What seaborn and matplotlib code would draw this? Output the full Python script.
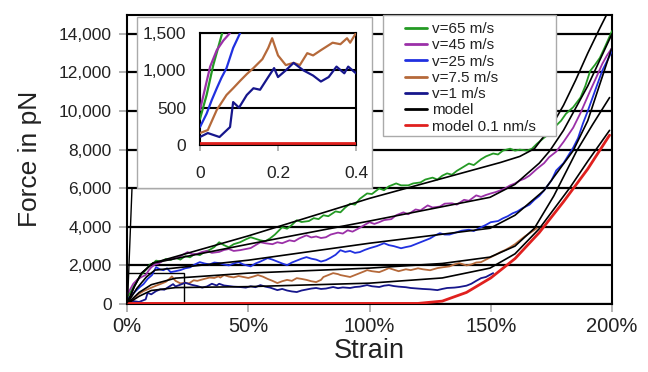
import numpy as np
import pandas as pd
import matplotlib
matplotlib.use("Agg")
import matplotlib.pyplot as plt
import seaborn as sns
from matplotlib.patches import Rectangle
from matplotlib.lines import Line2D
from matplotlib.ticker import FuncFormatter, FixedLocator

# ---- measured force-strain curves (strain as fraction, force in pN) ----
strain_v65 = [0, 0.017, 0.034, 0.057, 0.08, 0.095, 0.107, 0.12, 0.14, 0.16, 0.18, 0.20, 0.22, 0.24,
              0.26, 0.28, 0.30, 0.32, 0.34, 0.36, 0.38, 0.40, 0.42, 0.44, 0.466, 0.49, 0.51, 0.53,
              0.55, 0.57, 0.59, 0.61, 0.64, 0.66, 0.68, 0.70, 0.72, 0.75, 0.77, 0.79, 0.81, 0.83,
              0.86, 0.88, 0.90, 0.92, 0.94, 0.96, 0.99, 1.01, 1.04, 1.06, 1.08, 1.11, 1.13, 1.16,
              1.18, 1.21, 1.23, 1.26, 1.28, 1.30, 1.32, 1.34, 1.36, 1.38, 1.41, 1.43, 1.46, 1.48,
              1.51, 1.53, 1.55, 1.58, 1.60, 1.62, 1.65, 1.67, 1.69, 1.72, 1.74, 1.77, 1.79, 1.81,
              1.84, 1.87, 1.89, 1.91, 1.93, 1.95, 1.97, 2.0]
force_v65 = [350, 670, 1070, 1500, 1800, 2050, 2100, 2250, 2200, 2330, 2280, 2400, 2300, 2480,
             2420, 2600, 2530, 2700, 2800, 2950, 3200, 3050, 2940, 3100, 3200, 3350, 3460, 3380,
             3300, 3250, 3400, 3600, 3980, 3900, 4100, 4340, 4250, 4300, 4450, 4400, 4600, 4550,
             4800, 4750, 5000, 5200, 5150, 5450, 5730, 5700, 5990, 5900, 6100, 6250, 6150, 6150,
             6250, 6300, 6450, 6550, 6450, 6650, 6770, 6700, 6900, 7050, 7280, 7200, 7500, 7650,
             7800, 7750, 7950, 8050, 7950, 8000, 7950, 8050, 8300, 8620, 8800, 9250, 9500, 9860,
             10200, 10700, 11300, 12080, 12400, 12760, 13300, 14150]

strain_v45 = [0, 0.026, 0.043, 0.06, 0.077, 0.09, 0.10, 0.115, 0.13, 0.15, 0.17, 0.19, 0.21, 0.23,
              0.25, 0.27, 0.29, 0.31, 0.33, 0.35, 0.38, 0.40, 0.42, 0.44, 0.466, 0.49, 0.51, 0.53,
              0.55, 0.57, 0.60, 0.62, 0.64, 0.67, 0.69, 0.71, 0.74, 0.76, 0.78, 0.80, 0.82, 0.84,
              0.87, 0.89, 0.91, 0.93, 0.96, 0.98, 1.0, 1.02, 1.04, 1.06, 1.09, 1.11, 1.14, 1.16,
              1.19, 1.21, 1.24, 1.26, 1.29, 1.31, 1.34, 1.36, 1.39, 1.41, 1.44, 1.46, 1.48, 1.50,
              1.52, 1.54, 1.56, 1.58, 1.60, 1.62, 1.64, 1.66, 1.69, 1.72, 1.74, 1.77, 1.80, 1.84,
              1.87, 1.91, 1.93, 1.96, 1.98, 2.0]
force_v45 = [470, 1050, 1270, 1400, 1500, 1750, 1900, 2050, 2100, 2250, 2300, 2350, 2400, 2550,
             2690, 2580, 2600, 2700, 2750, 2650, 2700, 2800, 2850, 2750, 2790, 2850, 2900, 3050,
             3200, 3150, 3100, 3200, 3150, 3300, 3250, 3400, 3560, 3450, 3500, 3420, 3460, 3600,
             3700, 3650, 3820, 3750, 3950, 4100, 4240, 4150, 4240, 4350, 4400, 4600, 4750, 4650,
             4900, 4850, 5110, 5000, 5050, 5200, 5220, 5150, 5400, 5350, 5630, 5550, 5650, 5730,
             5800, 5890, 6000, 6150, 6250, 6400, 6500, 6660, 7000, 7300, 7600, 7900, 8400, 9140,
             9900, 11050, 11600, 12450, 12900, 13270]

strain_v25 = [0, 0.017, 0.03, 0.043, 0.055, 0.068, 0.085, 0.103, 0.12, 0.135, 0.15, 0.165, 0.18,
              0.20, 0.22, 0.24, 0.26, 0.28, 0.30, 0.32, 0.34, 0.36, 0.38, 0.40, 0.42, 0.44, 0.46,
              0.48, 0.51, 0.53, 0.55, 0.58, 0.60, 0.62, 0.64, 0.66, 0.68, 0.70, 0.72, 0.74, 0.76,
              0.78, 0.80, 0.82, 0.84, 0.86, 0.88, 0.90, 0.92, 0.94, 0.96, 0.98, 1.0, 1.03, 1.06,
              1.08, 1.10, 1.13, 1.15, 1.17, 1.20, 1.22, 1.25, 1.27, 1.29, 1.31, 1.33, 1.36, 1.38,
              1.41, 1.43, 1.46, 1.48, 1.50, 1.53, 1.55, 1.57, 1.59, 1.61, 1.63, 1.66, 1.68, 1.70,
              1.72, 1.75, 1.77, 1.80, 1.82, 1.84, 1.86, 1.88, 1.90, 1.92, 1.94, 1.96, 1.98, 2.0]
force_v25 = [240, 420, 600, 760, 900, 1030, 1300, 1500, 1910, 1800, 1750, 1850, 1650,
             1700, 1756, 1850, 1900, 2050, 2170, 2100, 2050, 2150, 2120, 2050, 2000, 2100, 2170,
             2050, 1950, 2100, 2200, 2380, 2300, 2200, 2100, 2010, 2150, 2250, 2350, 2430, 2350,
             2300, 2200, 2270, 2400, 2550, 2790, 2700, 2750, 2650, 2690, 2800, 2890, 3000, 3150,
             3050, 3000, 2890, 2950, 3000, 3150, 3250, 3400, 3550, 3670, 3600, 3600, 3720, 3800,
             3850, 3780, 3980, 4100, 4240, 4300, 4440, 4550, 4700, 4800, 4960, 5150, 5400, 5600,
             5890, 6400, 6920, 7300, 7700, 8100, 8600, 9350, 10000, 10700, 11400, 12100, 12600, 13120]

strain_v7 = [0, 0.02, 0.043, 0.068, 0.085, 0.103, 0.12, 0.137, 0.16, 0.175, 0.185, 0.20, 0.22,
             0.24, 0.256, 0.275, 0.29, 0.31, 0.325, 0.34, 0.36, 0.377, 0.385, 0.40, 0.42, 0.44,
             0.46, 0.48, 0.50, 0.52, 0.54, 0.56, 0.58, 0.60, 0.62, 0.64, 0.66, 0.68, 0.70, 0.72,
             0.74, 0.76, 0.78, 0.80, 0.81, 0.83, 0.85, 0.87, 0.88, 0.90, 0.92, 0.94, 0.96, 0.98,
             0.99, 1.01, 1.04, 1.06, 1.08, 1.10, 1.12, 1.15, 1.17, 1.20, 1.22, 1.25, 1.28, 1.30,
             1.33, 1.35, 1.37, 1.40, 1.42, 1.44, 1.46, 1.48, 1.50, 1.52, 1.54, 1.56, 1.58, 1.60,
             1.62, 1.64, 1.66, 1.69]
force_v7 = [160, 200, 470, 670, 760, 860, 950, 1030, 1150, 1300, 1430, 1200, 1070,
            1100, 1070, 1230, 1200, 1270, 1320, 1370, 1350, 1430, 1370, 1500, 1420, 1380,
            1450, 1400, 1350, 1420, 1500, 1420, 1300, 1200, 1085, 1180, 1250, 1200, 1340, 1300,
            1250, 1180, 1136, 1250, 1400, 1500, 1600, 1550, 1500, 1450, 1400, 1500, 1600, 1700,
            1756, 1700, 1650, 1750, 1860, 1780, 1700, 1800, 1756, 1850, 1800, 1750, 1860, 1900,
            1950, 2050, 2120, 2000, 2050, 2150, 2170, 2300, 2430, 2550, 2690, 2800, 2940, 3100,
            3300, 3500, 3670, 3925]

strain_v1 = [0, 0.02, 0.05, 0.077, 0.085, 0.10, 0.12, 0.137, 0.154, 0.17, 0.19, 0.20, 0.22, 0.24,
             0.265, 0.29, 0.31, 0.33, 0.35, 0.37, 0.38, 0.40, 0.42, 0.44, 0.466, 0.49, 0.51, 0.53,
             0.55, 0.57, 0.59, 0.62, 0.64, 0.66, 0.68, 0.70, 0.72, 0.74, 0.76, 0.78, 0.80, 0.82,
             0.85, 0.87, 0.89, 0.92, 0.94, 0.96, 0.99, 1.01, 1.04, 1.06, 1.08, 1.10, 1.12, 1.15,
             1.17, 1.20, 1.22, 1.25, 1.28, 1.30, 1.32, 1.35, 1.37, 1.40, 1.42, 1.44, 1.46, 1.48,
             1.51]
force_v1 = [107, 160, 107, 240, 575, 500, 670, 760, 740, 870, 1030, 910, 1000, 1100,
            1000, 930, 850, 910, 1050, 960, 1050, 960, 930, 900, 880, 850, 920, 870,
            980, 900, 850, 720, 780, 700, 650, 620, 700, 750, 800, 830, 780, 800,
            880, 820, 860, 830, 880, 900, 980, 920, 880, 950, 980, 930, 900, 870,
            830, 800, 780, 760, 720, 780, 830, 850, 880, 950, 1050, 1200, 1340, 1400,
            1600]

# ---- model curves ----
model_strain_65 = [0, 0.03, 0.06, 0.107, 0.5, 1.0, 1.54, 1.62, 1.68, 1.75, 1.80, 1.85, 1.90, 1.95, 1.99]
model_force_65 = [0, 900, 1600, 2120, 3530, 5475, 7335, 7650, 8050, 9200, 10300, 11600, 13000, 14300, 15300]
model_strain_45 = [0, 0.03, 0.06, 0.107, 0.5, 1.0, 1.497, 1.60, 1.70, 1.744, 1.80, 1.90, 2.0]
model_force_45 = [0, 900, 1600, 2120, 3100, 4300, 5530, 6200, 7300, 7950, 9000, 11300, 14000]
model_strain_25 = [0, 0.04, 0.08, 0.115, 0.5, 1.0, 1.497, 1.60, 1.72, 1.84, 1.90, 2.0]
model_force_25 = [0, 800, 1400, 1756, 2270, 3150, 3925, 4600, 5890, 7950, 9500, 13300]
model_strain_7 = [0, 0.05, 0.10, 0.20, 0.5, 1.0, 1.30, 1.497, 1.60, 1.68, 1.76, 1.855, 1.92, 1.99]
model_force_7 = [0, 600, 1000, 1340, 1600, 1860, 2100, 2430, 3000, 3925, 5600, 7950, 9300, 10700]
model_strain_1 = [0, 0.05, 0.10, 0.20, 0.5, 1.0, 1.30, 1.497, 1.60, 1.70, 1.827, 1.90, 1.99]
model_force_1 = [0, 400, 700, 850, 900, 1080, 1350, 1860, 2600, 3900, 6040, 7400, 9000]
model_strain_slow = [0, 1.2, 1.3, 1.4, 1.5, 1.6, 1.7, 1.8, 1.9, 1.99]
model_force_slow = [30, 30, 150, 600, 1350, 2350, 3700, 5300, 7000, 8750]

series_labels = ["v=65 m/s", "v=45 m/s", "v=25 m/s", "v=7.5 m/s", "v=1 m/s"]
series_colors = ["#249a24", "#9b30a8", "#2030e0", "#b5693a", "#16168c"]
model_label = "model"
slow_label = "model 0.1 nm/s"
slow_color = "#e0201e"

y_ticks = [0, 2000, 4000, 6000, 8000, 10000, 12000, 14000]
x_ticks = [0, 0.5, 1.0, 1.5, 2.0]
inset_x_ticks = [0, 0.2, 0.4]
inset_y_ticks = [0, 500, 1000, 1500]

data = [(strain_v65, force_v65), (strain_v45, force_v45), (strain_v25, force_v25),
        (strain_v7, force_v7), (strain_v1, force_v1)]
models = [(model_strain_65, model_force_65), (model_strain_45, model_force_45),
          (model_strain_25, model_force_25), (model_strain_7, model_force_7),
          (model_strain_1, model_force_1)]

sns.set_theme(style="white")
plt.rcParams["font.family"] = ["Liberation Sans", "DejaVu Sans"]
TEXT = "#222222"

W, H = 648, 372
fig = plt.figure(figsize=(W / 100, H / 100), dpi=100)
ax = fig.add_axes([127 / W, 1 - 304 / H, 485 / W, 289.4 / H])


def draw_curves(a, with_models=True, lw_data=1.3):
    for (s, f), lab, col in zip(data, series_labels, series_colors):
        sns.lineplot(x=s, y=f, ax=a, color=col, lw=lw_data, sort=False, estimator=None,
                     legend=False, zorder=3)
    if with_models:
        for s, f in models:
            sns.lineplot(x=s, y=f, ax=a, color="black", lw=1.2, sort=False, estimator=None,
                         legend=False, zorder=4)
    sns.lineplot(x=model_strain_slow, y=model_force_slow, ax=a, color=slow_color, lw=2.0,
                 sort=False, estimator=None, legend=False, zorder=5)


draw_curves(ax)
ax.set_xlim(0, 2.0)
ax.set_ylim(0, 15000)
ax.xaxis.set_major_locator(FixedLocator(x_ticks))
ax.yaxis.set_major_locator(FixedLocator(y_ticks))
ax.xaxis.set_major_formatter(FuncFormatter(lambda v, p: f"{v * 100:.0f}%"))
ax.yaxis.set_major_formatter(FuncFormatter(lambda v, p: f"{v:,.0f}"))
ax.yaxis.grid(True, color="black", lw=1.6, zorder=1)
ax.xaxis.grid(False)
ax.set_axisbelow(True)
for sp in ax.spines.values():
    sp.set_color("black")
    sp.set_linewidth(1.5)
ax.tick_params(axis="x", labelsize=14.5, length=6, color="#aaaaaa", direction="out", bottom=True, pad=3)
ax.tick_params(axis="y", labelsize=12.5, length=6, color="#aaaaaa", direction="out", left=True, pad=5)
for t in ax.get_xticklabels() + ax.get_yticklabels():
    t.set_color(TEXT)
ax.set_xlabel("Strain", fontsize=19.5, color=TEXT, labelpad=2)
ax.set_ylabel("Force in pN", fontsize=19, color=TEXT, labelpad=12)

# zoomed region marker and connector
ax.add_patch(Rectangle((0, 0), 0.235, 1600, fill=False, ec="black", lw=1.0, zorder=2))
fig.add_artist(Line2D([132 / W, 127.5 / W], [1 - 188 / H, 1 - 303 / H], color="black", lw=1.0, zorder=1.5))

# legend with a hand-placed frame
frame_x0 = (383 - 127) / 485
frame_x1 = (556 - 127) / 485
frame_y0 = (304 - 136) / 289.4
ax.add_patch(Rectangle((frame_x0, frame_y0), frame_x1 - frame_x0, 1 - frame_y0,
                       transform=ax.transAxes, facecolor="white", edgecolor="#aaaaaa",
                       lw=1.0, zorder=6, clip_on=False))
handles = [Line2D([], [], color=c, lw=2) for c in series_colors]
handles += [Line2D([], [], color="black", lw=2), Line2D([], [], color=slow_color, lw=2)]
labels = series_labels + [model_label, slow_label]
leg = ax.legend(handles, labels, loc="upper left",
                bbox_to_anchor=((405 - 127) / 485, (304 - 22) / 289.4),
                borderaxespad=0, borderpad=0, frameon=False,
                fontsize=11, handlelength=1.45, handletextpad=0.3, labelspacing=0.15)
leg.set_zorder(7)
for t in leg.get_texts():
    t.set_color(TEXT)

# inset background box
fig.add_artist(Rectangle((137 / W, 1 - 188 / H), 235 / W, 171 / H, transform=fig.transFigure,
                         facecolor="white", edgecolor="#aaaaaa", lw=1.0, zorder=1))

# inset: first 40 % strain, data only
axi = fig.add_axes([200 / W, 1 - 145 / H, 156 / W, 112 / H], zorder=2)
draw_curves(axi, with_models=False, lw_data=1.6)
axi.set_xlim(0, 0.4)
axi.set_ylim(0, 1500)
axi.xaxis.set_major_locator(FixedLocator(inset_x_ticks))
axi.yaxis.set_major_locator(FixedLocator(inset_y_ticks))
axi.xaxis.set_major_formatter(FuncFormatter(lambda v, p: "0" if v == 0 else f"{v:.1f}"))
axi.yaxis.set_major_formatter(FuncFormatter(lambda v, p: f"{v:,.0f}"))
axi.yaxis.grid(True, color="black", lw=1.5, zorder=1)
axi.xaxis.grid(False)
axi.set_axisbelow(True)
for sp in axi.spines.values():
    sp.set_color("black")
    sp.set_linewidth(1.5)
axi.tick_params(axis="x", labelsize=12.5, length=4, color="#aaaaaa", direction="out", bottom=True, pad=11)
axi.tick_params(axis="y", labelsize=12.5, length=0, left=True, pad=10)
for t in axi.get_xticklabels() + axi.get_yticklabels():
    t.set_color(TEXT)
axi.set_xlabel("")
axi.set_ylabel("")

fig.savefig("out.png", dpi=100)
